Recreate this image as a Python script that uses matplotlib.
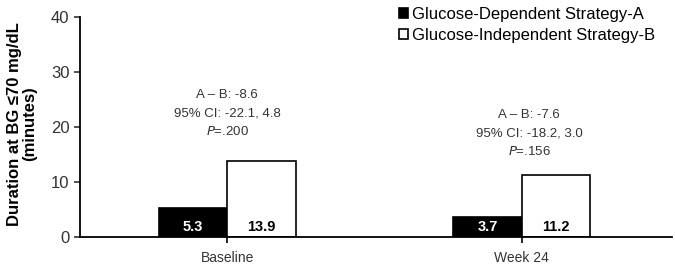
import matplotlib
matplotlib.use("Agg")
import matplotlib.pyplot as plt
import numpy as np

plt.rcParams['font.family'] = ['Liberation Sans', 'DejaVu Sans']

categories = ["Baseline", "Week 24"]
series_names = ["Glucose-Dependent Strategy-A", "Glucose-Independent Strategy-B"]
strategy_a = [5.3, 3.7]
strategy_b = [13.9, 11.2]
diff_text = ["A \u2013 B: -8.6", "A \u2013 B: -7.6"]
ci_text = ["95% CI: -22.1, 4.8", "95% CI: -18.2, 3.0"]
p_text = ["200", "156"]
y_ticks = [0, 10, 20, 30, 40]

fig = plt.figure(figsize=(6.75, 2.65), dpi=100)
ax = fig.add_axes([0.1185, 0.1057, 0.877, 0.83])

x = np.arange(len(categories))
w = 0.233
bars_a = ax.bar(x - w/2, strategy_a, w, color='black', edgecolor='black', linewidth=1.2, label=series_names[0])
bars_b = ax.bar(x + w/2, strategy_b, w, color='white', edgecolor='black', linewidth=1.2, label=series_names[1])

for xi, v in zip(x - w/2, strategy_a):
    ax.text(xi, 0.5, f"{v:.1f}", ha='center', va='bottom', color='white', fontweight='bold', fontsize=10.5)
for xi, v in zip(x + w/2, strategy_b):
    ax.text(xi, 0.5, f"{v:.1f}", ha='center', va='bottom', color='black', fontweight='bold', fontsize=10.5)

ann_base = [19.1, 15.5]
offsets = [0.0, 0.025]
for i in range(len(categories)):
    b = ann_base[i]
    ax.text(x[i] + offsets[i], b + 6.7, diff_text[i], ha='center', va='center', fontsize=9.5, color='#333333')
    ax.text(x[i] + offsets[i], b + 3.3, ci_text[i], ha='center', va='center', fontsize=9.5, color='#333333')
    ax.text(x[i] + offsets[i], b, r"$\it{P}$=." + p_text[i], ha='center', va='center', fontsize=9.5, color='#333333')

ax.set_xlim(-0.5, 1.51)
ax.set_ylim(0, 40)
ax.set_yticks(y_ticks)
ax.set_xticks(x)
ax.set_xticklabels(categories, fontsize=10)
ax.tick_params(axis='y', labelsize=12, length=4, width=1.2, colors='#333333', labelcolor='#333333')
ax.tick_params(axis='x', length=4, width=1.2, labelcolor='#333333', pad=6)
ax.spines['top'].set_visible(False)
ax.spines['right'].set_visible(False)
ax.spines['left'].set_linewidth(1.3)
ax.spines['bottom'].set_linewidth(1.3)
ax.set_ylabel("Duration at BG \u226470 mg/dL\n(minutes)", fontsize=12, fontweight='bold', linespacing=1.0)
ax.yaxis.set_label_coords(-0.072, 0.515)

leg = fig.legend(handles=[bars_a, bars_b], labels=series_names, loc='upper left',
                 bbox_to_anchor=(0.569, 1.03), frameon=False, fontsize=12,
                 handlelength=0.55, handleheight=0.55, handletextpad=0.25, labelspacing=0.35)

fig.savefig("out.png", dpi=100)
